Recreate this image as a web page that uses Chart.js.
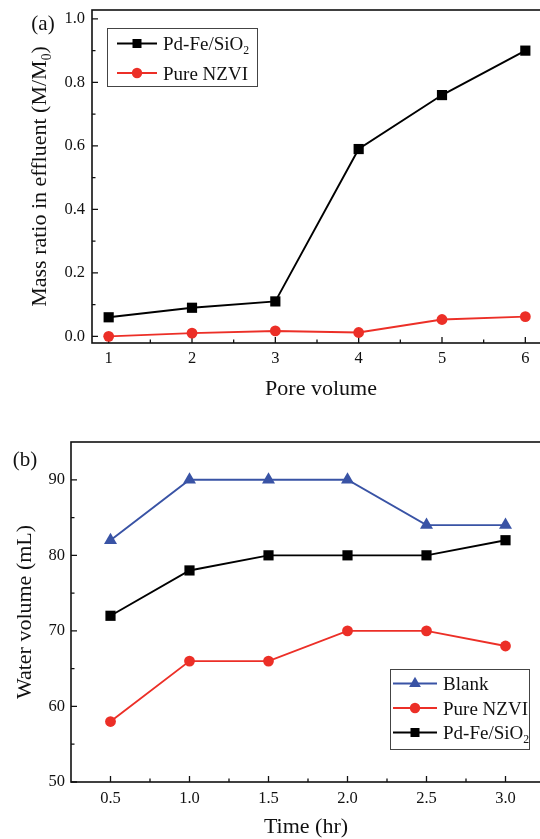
<!DOCTYPE html>
<html>
<head>
<meta charset="utf-8">
<script src="https://cdn.jsdelivr.net/npm/chart.js@4.4.1/dist/chart.umd.min.js"></script>
<style>
  html, body { margin: 0; padding: 0; background: #fff; overflow: hidden; width: 540px; height: 839px; }
  canvas { position: absolute; left: 0; }
  #panelA { top: 0; }
  #panelB { top: 400px; }
</style>
</head>
<body>
<canvas id="panelA" width="560" height="400"></canvas>
<canvas id="panelB" width="560" height="439"></canvas>
<script>
// ---- Panel (a): breakthrough of particles vs pore volume ----
const poreVolume     = [1, 2, 3, 4, 5, 6];
const pdFeMassRatio  = [0.06, 0.09, 0.11, 0.59, 0.76, 0.90];
const nzviMassRatio  = [0.0, 0.01, 0.017, 0.012, 0.053, 0.062];
const poreTicks      = [1, 2, 3, 4, 5, 6];
const poreMinorTicks = [1.5, 2.5, 3.5, 4.5, 5.5];
const ratioTicks     = [0.0, 0.2, 0.4, 0.6, 0.8, 1.0];
const ratioMinorTicks = [0.1, 0.3, 0.5, 0.7, 0.9];

// ---- Panel (b): collected water volume vs time ----
const timeHr         = [0.5, 1.0, 1.5, 2.0, 2.5, 3.0];
const blankVolume    = [82, 90, 90, 90, 84, 84];
const nzviVolume     = [58, 66, 66, 70, 70, 68];
const pdFeVolume     = [72, 78, 80, 80, 80, 82];
const timeTicks      = [0.5, 1.0, 1.5, 2.0, 2.5, 3.0];
const timeMinorTicks = [0.75, 1.25, 1.75, 2.25, 2.75];
const volumeTicks    = [50, 60, 70, 80, 90];
const volumeMinorTicks = [55, 65, 75, 85];

const BLACK = '#000000';
const RED   = '#ec2f27';
const BLUE  = '#3953a5';
const SERIF = "'Liberation Serif', 'Times New Roman', serif";

Chart.defaults.font.family = SERIF;
Chart.defaults.color = '#111';

function pts(xs, ys) { return xs.map((x, i) => ({ x: x, y: ys[i] })); }

// text made of runs, some of them subscripts
function fontOf(size) { return size + 'px ' + SERIF; }
function runsWidth(ctx, runs, size) {
  let w = 0;
  runs.forEach(r => { ctx.font = fontOf(r.sub ? size * 0.62 : size); w += ctx.measureText(r.t).width; });
  return w;
}
function drawRuns(ctx, runs, x, baseline, size, align) {
  const w = runsWidth(ctx, runs, size);
  let cx = align === 'center' ? x - w / 2 : x;
  ctx.textAlign = 'left';
  ctx.textBaseline = 'alphabetic';
  runs.forEach(r => {
    const s = r.sub ? size * 0.62 : size;
    ctx.font = fontOf(s);
    ctx.fillText(r.t, cx, baseline + (r.sub ? size * 0.22 : 0));
    cx += ctx.measureText(r.t).width;
  });
}

function drawMarker(ctx, shape, x, y, color, r) {
  ctx.fillStyle = color;
  ctx.beginPath();
  if (shape === 'rect') {
    ctx.rect(x - r, y - r, 2 * r, 2 * r);
  } else if (shape === 'circle') {
    ctx.arc(x, y, r, 0, Math.PI * 2);
  } else {
    ctx.moveTo(x, y - r);
    ctx.lineTo(x + r * 0.866, y + r * 0.5);
    ctx.lineTo(x - r * 0.866, y + r * 0.5);
    ctx.closePath();
  }
  ctx.fill();
}

// frame around the plot area plus inward tick marks
const frameTicks = {
  id: 'frameTicks',
  beforeDatasetsDraw(chart, args, o) {
    const { ctx, chartArea: a, scales: { x, y } } = chart;
    ctx.save();
    ctx.strokeStyle = '#111';
    ctx.lineWidth = 1.6;
    ctx.strokeRect(a.left, a.top, a.right - a.left, a.bottom - a.top);
    ctx.lineWidth = 1.3;
    ctx.beginPath();
    const xt = (vals, len) => vals.forEach(v => {
      const px = x.getPixelForValue(v);
      ctx.moveTo(px, a.bottom); ctx.lineTo(px, a.bottom - len);
    });
    const yt = (vals, len) => vals.forEach(v => {
      const py = y.getPixelForValue(v);
      ctx.moveTo(a.left, py); ctx.lineTo(a.left + len, py);
    });
    xt(o.xMajor, 6); xt(o.xMinor, 3.5);
    yt(o.yMajor, 6); yt(o.yMinor, 3.5);
    ctx.stroke();
    ctx.restore();
  }
};

// axis titles, panel tag and legend box
const annotations = {
  id: 'annotations',
  afterDraw(chart, args, o) {
    const { ctx, chartArea: a } = chart;
    ctx.save();
    ctx.fillStyle = '#111';
    // x title
    drawRuns(ctx, o.xTitle, (a.left + a.right) / 2 + o.xTitleShift, o.xTitleBaseline, 22, 'center');
    // y title, rotated
    ctx.save();
    ctx.translate(o.yTitleBaseline, (a.top + a.bottom) / 2);
    ctx.rotate(-Math.PI / 2);
    drawRuns(ctx, o.yTitle, 0, 0, 22, 'center');
    ctx.restore();
    // panel tag
    ctx.font = fontOf(21);
    ctx.textAlign = 'center';
    ctx.textBaseline = 'middle';
    ctx.fillText(o.tag.text, o.tag.x, o.tag.y);
    // legend
    const L = o.legend;
    ctx.fillStyle = '#fff';
    ctx.fillRect(L.x, L.y, L.w, L.h);
    ctx.strokeStyle = '#444';
    ctx.lineWidth = 1;
    ctx.strokeRect(L.x + 0.5, L.y + 0.5, L.w, L.h);
    L.items.forEach((it, i) => {
      const cy = L.firstRow + i * L.rowGap;
      ctx.strokeStyle = it.color;
      ctx.lineWidth = 1.8;
      ctx.beginPath();
      ctx.moveTo(L.lineX0, cy); ctx.lineTo(L.lineX1, cy);
      ctx.stroke();
      drawMarker(ctx, it.shape, (L.lineX0 + L.lineX1) / 2, cy, it.color, it.r);
      ctx.fillStyle = '#111';
      drawRuns(ctx, it.label, L.textX, cy + 6.5, 19, 'left');
    });
    ctx.restore();
  }
};

function fixedScale(size, prop, ticksArr) {
  return {
    afterBuildTicks(scale) { scale.ticks = ticksArr.map(v => ({ value: v })); },
    afterFit(scale) {
      scale[prop] = size;
      scale.paddingLeft = scale.paddingRight = scale.paddingTop = scale.paddingBottom = 0;
    }
  };
}

function lineSet(label, xs, ys, color, shape, radius) {
  return {
    label: label,
    data: pts(xs, ys),
    borderColor: color,
    backgroundColor: color,
    borderWidth: 1.9,
    pointStyle: shape,
    pointRadius: radius,
    pointHoverRadius: radius,
    pointBorderWidth: 0,
    tension: 0,
    clip: false
  };
}

const tickFont = { family: SERIF, size: 16.5 };

// panel (a)
new Chart(document.getElementById('panelA'), {
  type: 'line',
  data: {
    datasets: [
      lineSet('Pd-Fe/SiO2', poreVolume, pdFeMassRatio, BLACK, 'rect', 7.2),
      lineSet('Pure NZVI', poreVolume, nzviMassRatio, RED, 'circle', 5.4)
    ]
  },
  options: {
    responsive: false,
    animation: false,
    devicePixelRatio: 1,
    layout: { padding: { left: 0, top: 10, right: 18, bottom: 0 } },
    plugins: {
      legend: { display: false },
      tooltip: { enabled: false },
      frameTicks: { xMajor: poreTicks, xMinor: poreMinorTicks, yMajor: ratioTicks, yMinor: ratioMinorTicks },
      annotations: {
        xTitle: [{ t: 'Pore volume' }],
        xTitleShift: 4,
        xTitleBaseline: 395,
        yTitle: [{ t: 'Mass ratio in effluent (M/M' }, { t: '0', sub: true }, { t: ')' }],
        yTitleBaseline: 46,
        tag: { text: '(a)', x: 43, y: 24 },
        legend: {
          x: 107, y: 28, w: 150, h: 58,
          firstRow: 43.5, rowGap: 29.5,
          lineX0: 117, lineX1: 157, textX: 163,
          items: [
            { label: [{ t: 'Pd-Fe/SiO' }, { t: '2', sub: true }], color: BLACK, shape: 'rect', r: 4.5 },
            { label: [{ t: 'Pure NZVI' }], color: RED, shape: 'circle', r: 5.2 }
          ]
        }
      }
    },
    scales: {
      x: Object.assign({
        type: 'linear', min: 0.8, max: 6.2,
        grid: { display: false, drawTicks: false },
        border: { display: false },
        ticks: { padding: 6, font: tickFont, color: '#111', callback: v => String(v) }
      }, fixedScale(57, 'height', poreTicks)),
      y: Object.assign({
        type: 'linear', min: -0.021, max: 1.028,
        grid: { display: false, drawTicks: false },
        border: { display: false },
        ticks: { padding: 7, font: tickFont, color: '#111', callback: v => v.toFixed(1) }
      }, fixedScale(92, 'width', ratioTicks))
    }
  },
  plugins: [frameTicks, annotations]
});

// panel (b)
new Chart(document.getElementById('panelB'), {
  type: 'line',
  data: {
    datasets: [
      lineSet('Blank', timeHr, blankVolume, BLUE, 'triangle', 7.5),
      lineSet('Pure NZVI', timeHr, nzviVolume, RED, 'circle', 5.4),
      lineSet('Pd-Fe/SiO2', timeHr, pdFeVolume, BLACK, 'rect', 7.2)
    ]
  },
  options: {
    responsive: false,
    animation: false,
    devicePixelRatio: 1,
    layout: { padding: { left: 0, top: 42, right: 15, bottom: 0 } },
    plugins: {
      legend: { display: false },
      tooltip: { enabled: false },
      frameTicks: { xMajor: timeTicks, xMinor: timeMinorTicks, yMajor: volumeTicks, yMinor: volumeMinorTicks },
      annotations: {
        xTitle: [{ t: 'Time (hr)' }],
        xTitleShift: -2,
        xTitleBaseline: 433,
        yTitle: [{ t: 'Water volume (mL)' }],
        yTitleBaseline: 31,
        tag: { text: '(b)', x: 25, y: 60 },
        legend: {
          x: 390, y: 269, w: 139, h: 80,
          firstRow: 283.5, rowGap: 24.5,
          lineX0: 393, lineX1: 437, textX: 443,
          items: [
            { label: [{ t: 'Blank' }], color: BLUE, shape: 'triangle', r: 6.8 },
            { label: [{ t: 'Pure NZVI' }], color: RED, shape: 'circle', r: 5.2 },
            { label: [{ t: 'Pd-Fe/SiO' }, { t: '2', sub: true }], color: BLACK, shape: 'rect', r: 4.5 }
          ]
        }
      }
    },
    scales: {
      x: Object.assign({
        type: 'linear', min: 0.25, max: 3.25,
        grid: { display: false, drawTicks: false },
        border: { display: false },
        ticks: { padding: 7, font: tickFont, color: '#111', callback: v => v.toFixed(1) }
      }, fixedScale(57, 'height', timeTicks)),
      y: Object.assign({
        type: 'linear', min: 50, max: 95,
        grid: { display: false, drawTicks: false },
        border: { display: false },
        ticks: { padding: 6, font: tickFont, color: '#111', callback: v => String(v) }
      }, fixedScale(71, 'width', volumeTicks))
    }
  },
  plugins: [frameTicks, annotations]
});
</script>
</body>
</html>
